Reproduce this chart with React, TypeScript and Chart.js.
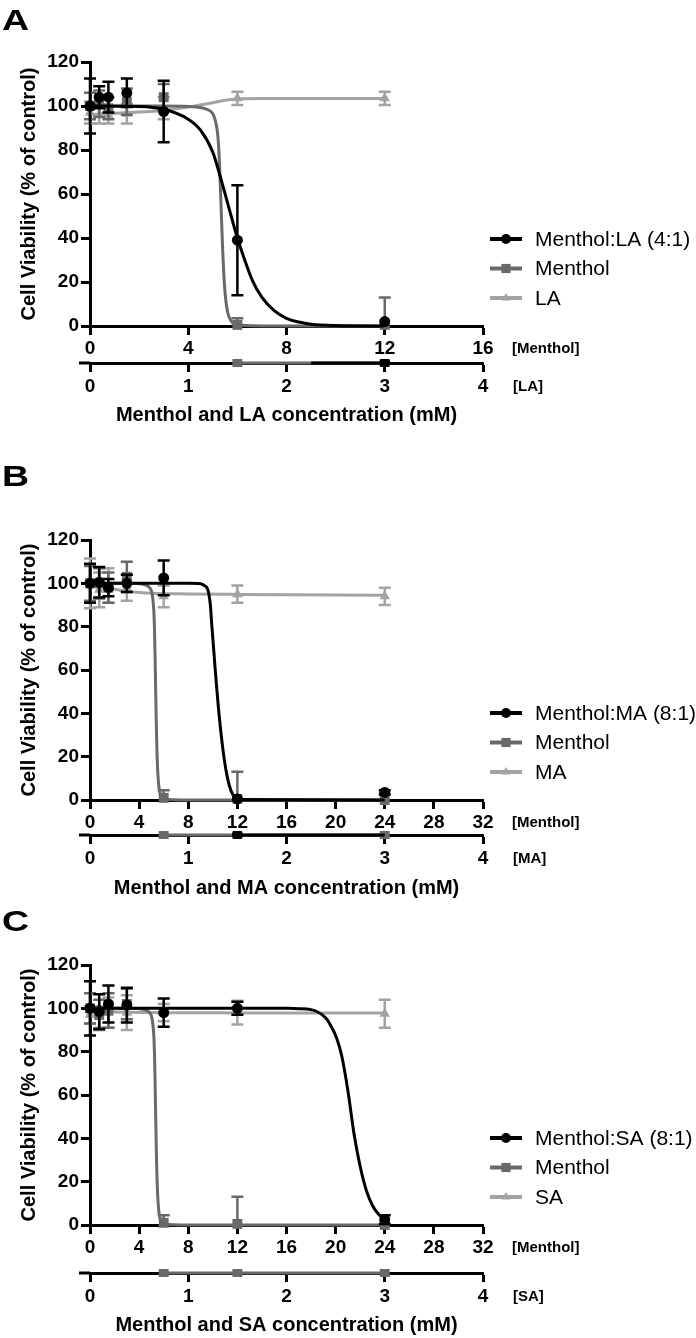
import React, { useEffect, useRef } from 'react';
import { Chart, registerables } from 'chart.js';

Chart.register(...registerables);

const FONT = '"Liberation Sans", Arial, Helvetica, sans-serif';
const BLACK = '#000000';
const DARK = '#696969';
const LIGHT = '#a3a3a3';

// ---------- Panel A : Menthol:LA (4:1) ----------
const X_A = [0, 0.375, 0.75, 1.5, 3, 6, 12];
const MIX_A_Y = [100, 104, 104, 106, 97.5, 39, 2];
const MIX_A_ERR = [12.5, 5, 7, 6.5, 14, 25, 0];
const MEN_A_Y = [100, 101, 99, 102, 104, 0.5, 0.5];
const MEN_A_ERR = [6, 6, 5, 6, 6, 3, 12.5];
const LA_A_Y = [97, 96, 96, 96.5, 99, 103.5, 103.5];
const LA_A_ERR = [5, 4, 4, 4.5, 5, 3, 3];
const FIT_MIX_A_X = [0, 2, 3, 4, 4.5, 5, 5.3, 5.6, 6, 6.3, 6.6, 7, 7.5, 8, 8.5, 9, 10, 12];
const FIT_MIX_A_Y = [100, 99.8, 98.5, 94, 89, 79, 68, 56, 40, 30, 21, 13, 7, 3.5, 1.8, 0.8, 0.2, 0];
const FIT_LA_A_X = [0, 1.5, 3, 4, 5, 5.5, 6, 7, 12];
const FIT_LA_A_Y = [96, 97, 98, 99.5, 101.5, 102.6, 103.2, 103.4, 103.4];

// ---------- Menthol alone fit (shared) ----------
const FIT_MEN_X = [0, 3, 4, 4.5, 4.8, 5.0, 5.1, 5.2, 5.25, 5.3, 5.35, 5.4, 5.45, 5.5, 5.6, 5.75, 6, 8, 12, 24];
const FIT_MEN_Y = [100, 100, 99.8, 99.3, 98.3, 96.5, 93.5, 87, 79, 66, 50, 35, 23, 15, 6.5, 2.2, 0.5, 0, 0, 0];

// ---------- Panel B : Menthol:MA (8:1) ----------
const X_BC = [0, 0.75, 1.5, 3, 6, 12, 24];
const MIX_B_Y = [100, 100.5, 98, 100, 102.5, 0.5, 3.5];
const MIX_B_ERR = [9, 7, 4, 4, 8, 0, 1];
const MEN_B_Y = [100, 100, 98, 103, 1, 0.5, 0];
const MEN_B_ERR = [8, 7, 7, 7, 3.5, 12.5, 0];
const MA_B_Y = [100, 97, 99, 98, 94, 95, 94];
const MA_B_ERR = [11.5, 8, 8, 6, 5, 4, 4];
const FIT_MIX_B_X = [0, 8, 9, 9.3, 9.6, 9.8, 9.9, 10.2, 10.5, 10.9, 11.2, 11.5, 11.9, 12, 24];
const FIT_MIX_B_Y = [100, 100, 99.8, 99, 97, 90, 82, 60, 40, 20, 10, 4, 0.5, 0.2, 0];
const FIT_MA_B_X = [0, 1, 2, 3, 4, 5, 8, 12, 24];
const FIT_MA_B_Y = [100, 98.6, 97.3, 96.4, 95.8, 95.4, 95.1, 94.9, 94.5];

// ---------- Panel C : Menthol:SA (8:1) ----------
const MIX_C_Y = [100, 98.5, 102, 101.5, 98, 100, 2.5];
const MIX_C_ERR = [12.5, 8, 8.5, 8, 6.5, 3, 2];
const MEN_C_Y = [100, 97, 99, 102, 1, 0.5, 0];
const MEN_C_ERR = [7, 7, 8, 7, 3.5, 12.5, 0];
const SA_C_Y = [97, 96, 98, 98, 98, 98, 97.5];
const SA_C_ERR = [4, 5, 7, 8, 4, 5.5, 6.5];
const FIT_MIX_C_X = [0, 16, 17, 18, 19.2, 19.6, 20.1, 20.5, 21, 21.5, 22, 22.5, 23, 23.5, 24];
const FIT_MIX_C_Y = [100, 100, 99.8, 99.4, 95.5, 92, 86, 78, 62, 42, 27, 16, 9, 5, 2.5];
const FIT_SA_C_X = [0, 3, 6, 12, 24];
const FIT_SA_C_Y = [98.5, 98.2, 98, 97.9, 97.8];

// ---------- axis ticks / labels ----------
const Y_TICKS_STEP = 20;
const Y_MAX = 120;
const X2_MAX = 4;
const Y_TITLE = 'Cell Viability (% of control)';

type Series = {
  label: string;
  x: number[];
  y: number[];
  err: number[];
  fitX: number[];
  fitY: number[];
  color: string;
  style: 'circle' | 'rect' | 'triangle';
  radius: number;
};

type PanelCfg = {
  letter: string;
  top: number;
  height: number;
  areaTop: number;
  padBottom: number;
  xH: number;
  x2H: number;
  xMax: number;
  xTitle: string;
  axis1: string;
  axis2: string;
  series: Series[];
};

const upTo = (xs: number[], ys: number[], m: number) => {
  const px: number[] = [];
  const py: number[] = [];
  xs.forEach((v, i) => {
    if (v <= m) {
      px.push(v);
      py.push(ys[i]);
    }
  });
  return [px, py];
};

const [MEN_A_FX, MEN_A_FY] = upTo(FIT_MEN_X, FIT_MEN_Y, 12);

const PANELS: PanelCfg[] = [
  {
    letter: 'A', top: 0, height: 440, areaTop: 62, padBottom: 13, xH: 37, x2H: 64, xMax: 16,
    xTitle: 'Menthol and LA concentration (mM)', axis1: '[Menthol]', axis2: '[LA]',
    series: [
      { label: 'Menthol:LA (4:1)', x: X_A, y: MIX_A_Y, err: MIX_A_ERR, fitX: FIT_MIX_A_X, fitY: FIT_MIX_A_Y, color: BLACK, style: 'circle', radius: 5.5 },
      { label: 'Menthol', x: X_A, y: MEN_A_Y, err: MEN_A_ERR, fitX: MEN_A_FX, fitY: MEN_A_FY, color: DARK, style: 'rect', radius: 7 },
      { label: 'LA', x: X_A, y: LA_A_Y, err: LA_A_ERR, fitX: FIT_LA_A_X, fitY: FIT_LA_A_Y, color: LIGHT, style: 'triangle', radius: 6 },
    ],
  },
  {
    letter: 'B', top: 440, height: 462, areaTop: 100, padBottom: 2, xH: 35, x2H: 65, xMax: 32,
    xTitle: 'Menthol and MA concentration (mM)', axis1: '[Menthol]', axis2: '[MA]',
    series: [
      { label: 'Menthol:MA (8:1)', x: X_BC, y: MIX_B_Y, err: MIX_B_ERR, fitX: FIT_MIX_B_X, fitY: FIT_MIX_B_Y, color: BLACK, style: 'circle', radius: 5.5 },
      { label: 'Menthol', x: X_BC, y: MEN_B_Y, err: MEN_B_ERR, fitX: FIT_MEN_X, fitY: FIT_MEN_Y, color: DARK, style: 'rect', radius: 7 },
      { label: 'MA', x: X_BC, y: MA_B_Y, err: MA_B_ERR, fitX: FIT_MA_B_X, fitY: FIT_MA_B_Y, color: LIGHT, style: 'triangle', radius: 6 },
    ],
  },
  {
    letter: 'C', top: 902, height: 436, areaTop: 63, padBottom: 1, xH: 48, x2H: 64, xMax: 32,
    xTitle: 'Menthol and SA concentration (mM)', axis1: '[Menthol]', axis2: '[SA]',
    series: [
      { label: 'Menthol:SA (8:1)', x: X_BC, y: MIX_C_Y, err: MIX_C_ERR, fitX: FIT_MIX_C_X, fitY: FIT_MIX_C_Y, color: BLACK, style: 'circle', radius: 5.5 },
      { label: 'Menthol', x: X_BC, y: MEN_C_Y, err: MEN_C_ERR, fitX: FIT_MEN_X, fitY: FIT_MEN_Y, color: DARK, style: 'rect', radius: 7 },
      { label: 'SA', x: X_BC, y: SA_C_Y, err: SA_C_ERR, fitX: FIT_SA_C_X, fitY: FIT_SA_C_Y, color: LIGHT, style: 'triangle', radius: 6 },
    ],
  },
];

const TICK_LEN = 9;
const TICK_FONT = 19;

function drawMarker(ctx: CanvasRenderingContext2D, style: string, x: number, y: number, r: number, color: string) {
  ctx.fillStyle = color;
  ctx.beginPath();
  if (style === 'circle') {
    ctx.arc(x, y, r, 0, Math.PI * 2);
  } else if (style === 'rect') {
    const s = r * Math.SQRT1_2;
    ctx.rect(x - s, y - s, 2 * s, 2 * s);
  } else {
    const h = r * 1.5;
    ctx.moveTo(x, y - r);
    ctx.lineTo(x + h / Math.sqrt(3) * 1.0, y + r / 2);
    ctx.lineTo(x - h / Math.sqrt(3) * 1.0, y + r / 2);
    ctx.closePath();
  }
  ctx.fill();
}

const errorBarPlugin = {
  id: 'errbars',
  beforeDatasetDraw(chart: any, args: any) {
    const ds = chart.data.datasets[args.index];
    if (!ds.errors) return;
    const ys = chart.scales.y;
    const ctx = chart.ctx;
    const bottom = chart.chartArea.bottom;
    ctx.save();
    ctx.strokeStyle = ds.borderColor;
    ctx.lineWidth = 2.5;
    ds.data.forEach((p: any, j: number) => {
      const e = ds.errors[j];
      if (!e) return;
      const el = args.meta.data[j];
      const px = el.x;
      const top = ys.getPixelForValue(p.y + e);
      const lowV = p.y - e;
      const bot = lowV >= 0 ? ys.getPixelForValue(lowV) : bottom;
      const cw = 6;
      ctx.beginPath();
      ctx.moveTo(px, top);
      ctx.lineTo(px, bot);
      ctx.moveTo(px - cw, top);
      ctx.lineTo(px + cw, top);
      if (lowV >= 0) {
        ctx.moveTo(px - cw, bot);
        ctx.lineTo(px + cw, bot);
      }
      ctx.stroke();
    });
    ctx.restore();
  },
};

const decoPlugin = {
  id: 'deco',
  afterDatasetsDraw(chart: any) {
    // projection of zero-level data on the second axis line (as in the original figure)
    const { ctx, chartArea } = chart;
    const x2 = chart.scales.x2;
    const xs = chart.scales.x;
    const yl = x2.top;
    ctx.save();
    // small extension of the second axis to the left
    ctx.strokeStyle = BLACK;
    ctx.lineWidth = 3;
    ctx.beginPath();
    ctx.moveTo(chartArea.left - 11, yl);
    ctx.lineTo(chartArea.left, yl);
    ctx.stroke();
    const metas = chart.getSortedVisibleDatasetMetas();
    for (let i = metas.length - 1; i >= 0; i--) {
      const ds = chart.data.datasets[metas[i].index];
      if (ds.isFit) {
        ctx.strokeStyle = ds.borderColor;
        ctx.lineWidth = 3;
        ctx.beginPath();
        for (let j = 0; j < ds.data.length - 1; j++) {
          const a = ds.data[j];
          const b = ds.data[j + 1];
          if (a.y <= 1 && b.y <= 1) {
            ctx.moveTo(xs.getPixelForValue(a.x), yl);
            ctx.lineTo(xs.getPixelForValue(b.x), yl);
          }
        }
        ctx.stroke();
      } else {
        ctx.save();
        ctx.beginPath();
        ctx.rect(chartArea.left - 12, yl - 4, chartArea.right - chartArea.left + 24, 8);
        ctx.clip();
        ds.data.forEach((p: any) => {
          if (p.y <= 2) drawMarker(ctx, ds.markerStyle, xs.getPixelForValue(p.x), yl, ds.pointRadius, ds.backgroundColor);
        });
        ctx.restore();
      }
    }
    ctx.restore();
  },
  afterDraw(chart: any) {
    const cfg: PanelCfg = chart.options.plugins.deco.cfg;
    const { ctx, chartArea } = chart;
    const xs = chart.scales.x;
    const x2 = chart.scales.x2;
    ctx.save();
    ctx.fillStyle = BLACK;
    ctx.textAlign = 'left';
    ctx.textBaseline = 'middle';
    ctx.font = `bold 15px ${FONT}`;
    ctx.fillText(cfg.axis1, chartArea.right + 29, xs.top + TICK_LEN + 2 + TICK_FONT * 0.6);
    ctx.fillText(cfg.axis2, chartArea.right + 30, x2.top + TICK_LEN + 3 + TICK_FONT * 0.6);
    // legend
    const rows = [87, 57.5, 28];
    ctx.font = `21px ${FONT}`;
    cfg.series.forEach((s, i) => {
      const y = chartArea.bottom - rows[i];
      const x0 = chartArea.right + 7;
      const x1 = chartArea.right + 39;
      ctx.strokeStyle = s.color;
      ctx.lineWidth = 4;
      ctx.beginPath();
      ctx.moveTo(x0, y);
      ctx.lineTo(x1, y);
      ctx.stroke();
      drawMarker(ctx, s.style, (x0 + x1) / 2, y, s.style === 'circle' ? 5 : s.style === 'rect' ? 6.5 : 5, s.color);
      ctx.fillStyle = BLACK;
      ctx.fillText(s.label, chartArea.right + 52, y + 1);
    });
    ctx.restore();
  },
};

function buildConfig(cfg: PanelCfg): any {
  const datasets: any[] = [];
  cfg.series.forEach((s, i) => {
    datasets.push({
      label: s.label,
      data: s.x.map((x, j) => ({ x, y: s.y[j] })),
      showLine: false,
      pointStyle: s.style,
      markerStyle: s.style,
      pointRadius: s.radius,
      pointHoverRadius: s.radius,
      pointBorderWidth: 0,
      backgroundColor: s.color,
      borderColor: s.color,
      errors: s.err,
      clip: false,
      order: i * 2,
    });
    datasets.push({
      label: s.label + ' fit',
      data: s.fitX.map((x, j) => ({ x, y: s.fitY[j] })),
      showLine: true,
      isFit: true,
      borderColor: s.color,
      backgroundColor: s.color,
      borderWidth: 3,
      pointRadius: 0,
      pointHoverRadius: 0,
      cubicInterpolationMode: 'monotone',
      fill: false,
      clip: false,
      order: i * 2 + 1,
    });
  });

  const tickFont = { family: FONT, size: TICK_FONT, weight: 'bold' as const };
  const grid = { drawOnChartArea: false, drawTicks: true, tickLength: TICK_LEN, tickWidth: 3, tickColor: BLACK };
  const border = { display: true, width: 3, color: BLACK };

  return {
    type: 'scatter',
    data: { datasets },
    options: {
      animation: false,
      responsive: false,
      maintainAspectRatio: false,
      events: [],
      layout: { padding: { left: 0, right: 696 - 483, top: cfg.areaTop, bottom: cfg.padBottom } },
      plugins: {
        legend: { display: false },
        tooltip: { enabled: false },
        deco: { cfg },
      },
      scales: {
        x: {
          type: 'linear', position: 'bottom', min: 0, max: cfg.xMax, weight: 0,
          ticks: { stepSize: 4, font: tickFont, color: BLACK, padding: 2, autoSkip: false, maxRotation: 0 },
          grid, border,
          afterFit: (s: any) => { s.height = cfg.xH; },
        },
        x2: {
          type: 'linear', position: 'bottom', min: 0, max: X2_MAX, weight: 1,
          ticks: { stepSize: 1, font: tickFont, color: BLACK, padding: 3, autoSkip: false, maxRotation: 0 },
          grid, border,
          title: { display: true, text: cfg.xTitle, color: BLACK, font: { family: FONT, size: 20, weight: 'bold' }, padding: 0 },
          afterFit: (s: any) => { s.height = cfg.x2H; },
        },
        y: {
          type: 'linear', position: 'left', min: 0, max: Y_MAX,
          ticks: { stepSize: Y_TICKS_STEP, font: tickFont, color: BLACK, padding: 2 },
          grid, border,
          title: { display: true, text: Y_TITLE, color: BLACK, font: { family: FONT, size: 20, weight: 'bold' }, padding: { top: 17, bottom: 0 } },
          afterFit: (s: any) => { s.width = 90; },
        },
      },
    },
    plugins: [errorBarPlugin, decoPlugin],
  };
}

function Panel({ cfg }: { cfg: PanelCfg }) {
  const ref = useRef<HTMLCanvasElement | null>(null);
  useEffect(() => {
    if (!ref.current) return;
    const chart = new Chart(ref.current, buildConfig(cfg));
    return () => chart.destroy();
  }, [cfg]);
  return (
    <>
      <canvas
        ref={ref}
        width={696}
        height={cfg.height}
        style={{ position: 'absolute', left: 0, top: cfg.top, width: 696, height: cfg.height }}
      />
      <div
        style={{
          position: 'absolute',
          left: 2,
          top: cfg.top + (cfg.letter === 'A' ? 5 : cfg.letter === 'B' ? 21 : 4),
          fontFamily: FONT,
          fontWeight: 'bold',
          fontSize: 30,
          lineHeight: '30px',
          color: BLACK,
          transform: 'scaleX(1.25)',
          transformOrigin: 'left top',
        }}
      >
        {cfg.letter}
      </div>
    </>
  );
}

export default function App() {
  return (
    <div style={{ position: 'absolute', left: 0, top: 0, width: 696, height: 1338, background: '#fff', overflow: 'hidden' }}>
      {PANELS.map((p) => (
        <Panel key={p.letter} cfg={p} />
      ))}
    </div>
  );
}
